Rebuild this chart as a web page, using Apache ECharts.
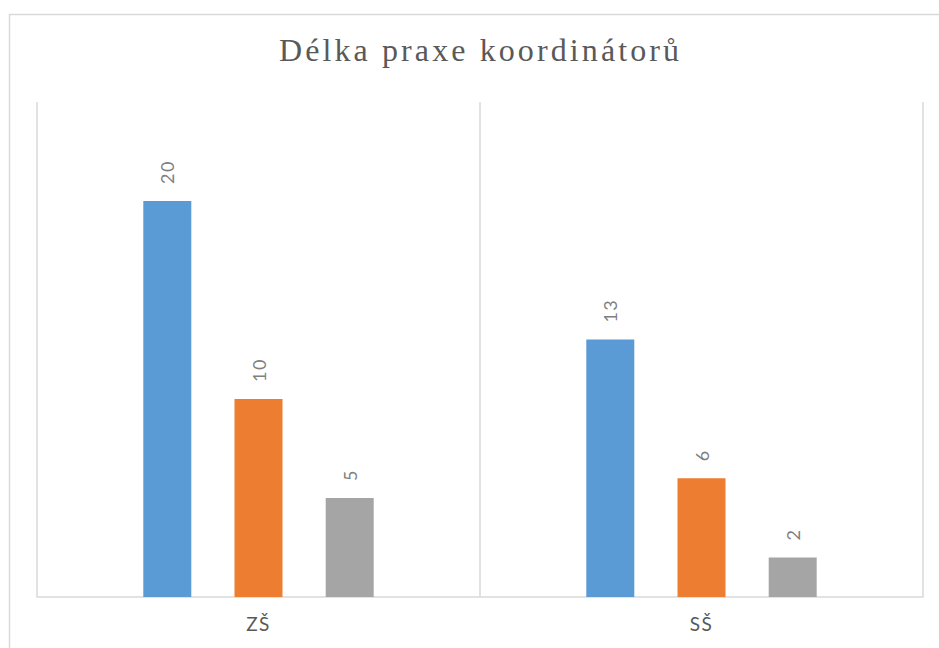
<!DOCTYPE html>
<html>
<head>
<meta charset="utf-8">
<title>Délka praxe koordinátorů</title>
<script src="https://cdn.jsdelivr.net/npm/echarts@6/dist/echarts.min.js"></script>
<style>
  html, body { margin: 0; padding: 0; background: #fff; }
  #chart { width: 939px; height: 648px; }
  /* Excel-like spaced lettering */
  #chart text { letter-spacing: 1.5px; }
  #chart text[style*="Serif"] { letter-spacing: 3.1px; }
</style>
</head>
<body>
<div id="chart"></div>
<script>
  // kategorie a hodnoty
  var categories = ['ZŠ', 'SŠ'];
  var serieA = [20, 13];   // modrá
  var serieB = [10, 6];    // oranžová
  var serieC = [5, 2];     // šedá
  var chartTitle = 'Délka praxe koordinátorů';

  var chart = echarts.init(document.getElementById('chart'), null, { renderer: 'svg' });

  var labelCfg = {
    show: true,
    position: 'top',
    rotate: 90,
    align: 'left',
    verticalAlign: 'middle',
    distance: 17,
    color: '#7f7f7f',
    fontFamily: 'Lato',
    fontSize: 18
  };

  function bar(name, data, color) {
    return {
      name: name,
      type: 'bar',
      data: data,
      barWidth: 48,
      barGap: '90%',
      itemStyle: { color: color },
      label: labelCfg
    };
  }

  chart.setOption({
    animation: false,
    title: {
      text: chartTitle,
      left: 279,
      top: 34,
      padding: 0,
      textStyle: {
        fontFamily: 'Liberation Serif',
        fontWeight: 'normal',
        fontSize: 32,
        color: '#595959'
      }
    },
    graphic: [{
      type: 'rect',
      left: 7,
      top: 12,
      shape: { width: 950, height: 660 },
      style: { fill: 'none', stroke: '#d9d9d9', lineWidth: 1.5 },
      silent: true
    }],
    grid: { left: 37, right: 16, top: 102, bottom: 51 },
    xAxis: {
      type: 'category',
      data: categories,
      axisLine: { lineStyle: { color: '#d9d9d9', width: 1.5 } },
      axisTick: { show: false },
      splitLine: { show: true, lineStyle: { color: '#d9d9d9', width: 1.5 } },
      axisLabel: {
        color: '#595959',
        fontFamily: 'Lato',
        fontSize: 19,
        margin: 17
      }
    },
    yAxis: {
      type: 'value',
      min: 0,
      max: 25,
      show: false,
      splitLine: { show: false }
    },
    series: [
      bar('A', serieA, '#5b9bd5'),
      bar('B', serieB, '#ed7d31'),
      bar('C', serieC, '#a5a5a5')
    ]
  });
</script>
</body>
</html>
